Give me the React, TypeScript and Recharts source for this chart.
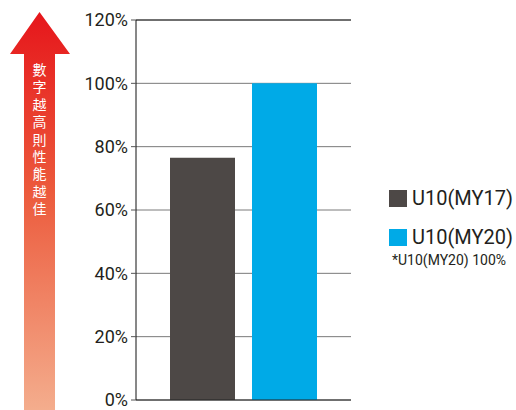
import { Bar, BarChart, CartesianGrid, ReferenceLine, XAxis, YAxis } from "recharts";

const categories = ["U10"];
const my17Values = [76.5];
const my20Values = [100];
const yTicks = [0, 20, 40, 60, 80, 100, 120];
const seriesNames = ["U10(MY17)", "U10(MY20)"];
const seriesColors = ["#4d4846", "#00aae7"];
const arrowText = "數字越高則性能越佳";
const footnote = "*U10(MY20) 100%";

const chartData = categories.map((name, i) => ({
  name,
  my17: my17Values[i],
  my20: my20Values[i],
}));

const tickFont = { fill: "#231f20", fontSize: 18, fontFamily: "Roboto" };

function Arrow() {
  return (
    <svg
      width={80}
      height={410}
      style={{ position: "absolute", left: 0, top: 0 }}
    >
      <defs>
        <linearGradient id="arrowFill" x1="0" y1="0" x2="0" y2="1">
          <stop offset="0%" stopColor="#e6161b" />
          <stop offset="45%" stopColor="#ec5a3c" />
          <stop offset="100%" stopColor="#f4ad8d" />
        </linearGradient>
      </defs>
      <polygon
        points="39.5,12 70,54 55,54 55,410 24,410 24,54 10,54"
        fill="url(#arrowFill)"
      />
      {/* one glyph per text, stacked down the shaft */}
      {arrowText.split("").map((ch, i) => (
        <text
          key={i}
          x={39.5}
          y={75 + i * 17.4}
          textAnchor="middle"
          fill="#ffffff"
          fontSize={14}
          fontFamily="'Noto Sans CJK TC'"
        >
          {ch}
        </text>
      ))}
    </svg>
  );
}

function LegendBox() {
  return (
    <div
      style={{
        position: "absolute",
        left: 389,
        top: 186,
        fontFamily: "Roboto",
        color: "#231f20",
      }}
    >
      {seriesNames.map((n, i) => (
        <div
          key={n}
          style={{ display: "flex", alignItems: "center", height: 24, marginBottom: 15 * (1 - i) }}
        >
          <div style={{ width: 18, height: 17, background: seriesColors[i], marginRight: 5 }} />
          <span style={{ fontSize: 20, lineHeight: "24px" }}>{n}</span>
        </div>
      ))}
      <div style={{ fontSize: 14, marginTop: 3, marginLeft: 3, lineHeight: "17px" }}>{footnote}</div>
    </div>
  );
}

export default function App() {
  return (
    <div style={{ position: "absolute", left: 0, top: 0, width: 516, height: 410, background: "#fff" }}>
      <Arrow />
      <BarChart
        width={516}
        height={410}
        data={chartData}
        margin={{ top: 20, right: 165, bottom: 10, left: 76 }}
        barGap={17}
        barSize={65}
      >
        <CartesianGrid vertical={false} stroke="#7a7a7a" />
        <XAxis dataKey="name" hide />
        <YAxis
          domain={[0, 120]}
          ticks={yTicks}
          interval={0}
          tickFormatter={(v) => `${v}%`}
          tick={tickFont}
          tickSize={5}
          tickMargin={3}
          tickLine={{ stroke: "#555" }}
          axisLine={{ stroke: "#111" }}
          width={60}
        />
        <YAxis
          yAxisId="r"
          orientation="right"
          domain={[0, 120]}
          ticks={yTicks}
          interval={0}
          tick={false}
          tickSize={5}
          tickLine={{ stroke: "#555" }}
          axisLine={{ stroke: "#555" }}
          width={0}
        />
        <ReferenceLine y={120} stroke="#222" />
        <ReferenceLine y={0} stroke="#222" />
        <Bar dataKey="my17" fill={seriesColors[0]} isAnimationActive={false} />
        <Bar dataKey="my20" fill={seriesColors[1]} isAnimationActive={false} />
      </BarChart>
      <LegendBox />
    </div>
  );
}
